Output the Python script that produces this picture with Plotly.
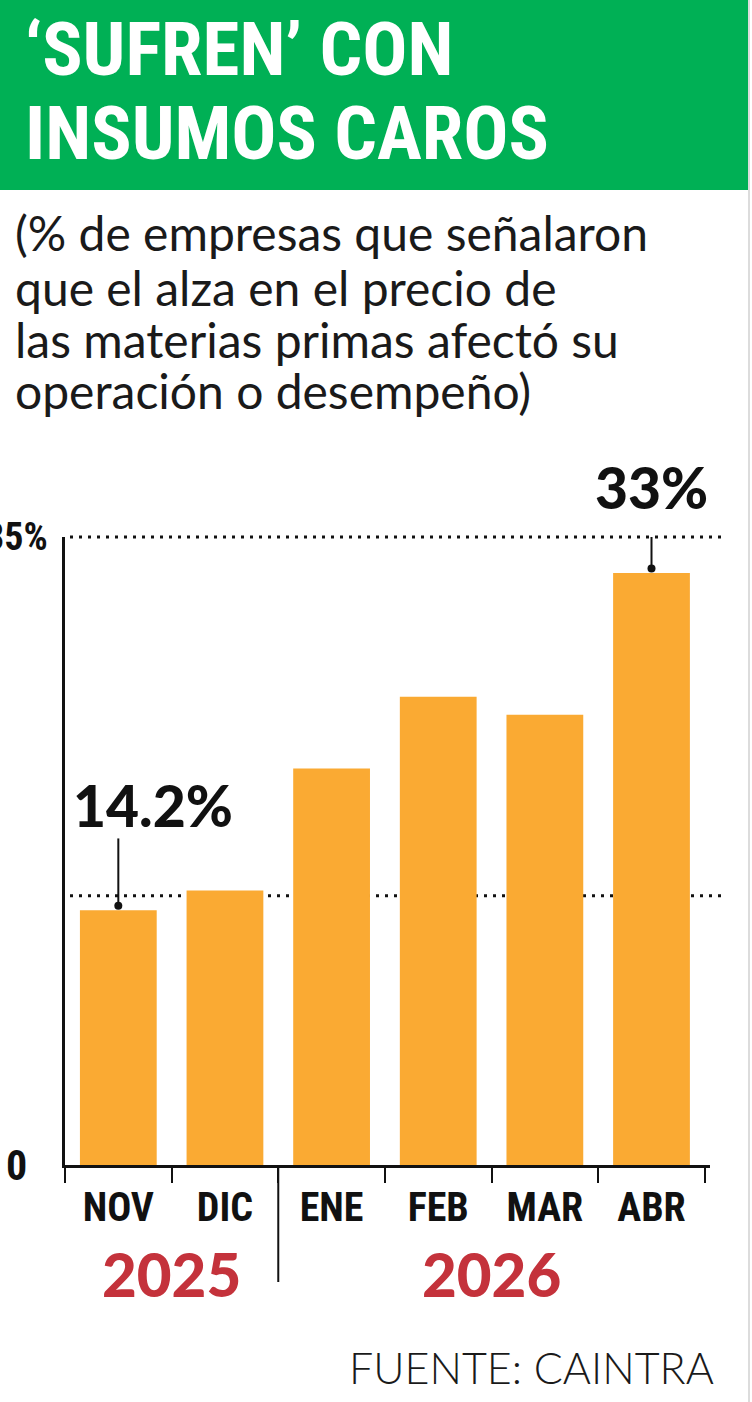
import plotly.graph_objects as go

# ---------------- data ----------------
months = ["NOV", "DIC", "ENE", "FEB", "MAR", "ABR"]
values = [14.2, 15.3, 22.1, 26.1, 25.1, 33.0]
years = ["2025", "2026"]
year_counts = [2, 4]          # months per year
label_idx = [0, 5]            # bars with value callouts
grid_vals = [15, 35]
ytick_vals = [0, 35]
ytick_text = ["0", "35%"]
title_lines = ["‘SUFREN’ CON", "INSUMOS CAROS"]
subtitle_lines = ["(% de empresas que señalaron",
                  "que el alza en el precio de",
                  "las materias primas afectó su",
                  "operación o desempeño)"]
source = "FUENTE: CAINTRA"

# ---------------- style ----------------
W, H = 752, 1402
L, R, T, B = 65, 710, 537, 1165
PW, PH = R - L, B - T
YMAX = 35
GREEN = "#00B055"
ORANGE = "#FAAA33"
RED = "#C4323B"
INK = "#111111"
COND = "Roboto Condensed, DejaVu Sans Condensed, sans-serif"
GEO = "Lato, Montserrat, sans-serif"


def px(x):
    return (x - L) / PW


def py(y):
    return (B - y) / PH


fig = go.Figure()
fig.add_trace(go.Bar(x=months, y=values, marker=dict(color=ORANGE, line_width=0),
                     hoverinfo="skip"))

conn_len = {0: 4.0, 5: 2.5}
for i in label_idx:
    v = values[i]
    fig.add_trace(go.Scatter(x=[months[i], months[i]], y=[v + 0.25, v + conn_len[i]],
                             mode="lines", line=dict(color=INK, width=2),
                             cliponaxis=False, hoverinfo="skip"))
    fig.add_trace(go.Scatter(x=[months[i]], y=[v + 0.25], mode="markers",
                             marker=dict(color=INK, size=8), cliponaxis=False,
                             hoverinfo="skip"))

shapes = []
shapes.append(dict(type="rect", xref="paper", yref="paper", x0=px(0), x1=px(748),
                   y0=py(190), y1=py(0), fillcolor=GREEN, line_width=0, layer="below"))
shapes.append(dict(type="line", xref="paper", yref="paper", x0=px(749), x1=px(749),
                   y0=py(0), y1=py(H), line=dict(color="#dcdcdc", width=2)))
for g in grid_vals:
    shapes.append(dict(type="line", xref="paper", yref="y domain", x0=px(70), x1=px(722),
                       y0=g / YMAX, y1=g / YMAX,
                       line=dict(color=INK, width=3, dash="3px,6px"), layer="below"))
shapes.append(dict(type="line", xref="x", yref="paper", x0=year_counts[0] - 0.5,
                   x1=year_counts[0] - 0.5, y0=py(1282), y1=0,
                   line=dict(color=INK, width=2)))

ann = []
for k, line in enumerate(title_lines):
    ann.append(dict(text=line, xref="paper", yref="paper", x=px(23), y=py([49, 133][k]),
                    xanchor="left", yanchor="middle", showarrow=False,
                    font=dict(family=COND, size=75, color="white", weight=700)))
for k, line in enumerate(subtitle_lines):
    ann.append(dict(text=line, xref="paper", yref="paper", x=px(13),
                    y=py([232, 287, 339, 390][k]), xanchor="left", yanchor="middle",
                    showarrow=False, font=dict(family=GEO, size=48, color="#1a1a1a")))
for v, t in zip(ytick_vals, ytick_text):
    ann.append(dict(text=t, xref="paper", yref="y", x=px(50 if v else 29), y=v,
                    xanchor="right", yanchor="middle", showarrow=False,
                    font=dict(family=COND, size=38 if v else 42, color=INK, weight=700)))
callout_shift = {0: (-47, 105, "left"), 5: (0, 86, "center")}
for i in label_idx:
    xs, ys, anc = callout_shift[i]
    ann.append(dict(text=f"{values[i]:g}%", xref="x", yref="y", x=months[i], y=values[i],
                    xshift=xs, yshift=ys, xanchor=anc, yanchor="middle", showarrow=False,
                    font=dict(family=GEO, size=57, color=INK, weight=900)))
start = 0
for yr, n in zip(years, year_counts):
    ann.append(dict(text=yr, xref="x", yref="paper", x=start + (n - 1) / 2, y=py(1274),
                    xanchor="center", yanchor="middle", showarrow=False,
                    font=dict(family=GEO, size=60, color=RED, weight=900)))
    start += n
ann.append(dict(text=source, xref="paper", yref="paper", x=px(716), y=py(1367),
                xanchor="right", yanchor="middle", showarrow=False,
                font=dict(family=GEO, size=43, color="#1a1a1a", weight=300)))

fig.update_layout(
    width=W, height=H, autosize=False,
    margin=dict(l=L, r=W - R, t=T, b=H - B, pad=0),
    paper_bgcolor="white", plot_bgcolor="white",
    showlegend=False, bargap=0.28,
    shapes=shapes, annotations=ann,
    xaxis=dict(type="category", showline=True, linecolor=INK, linewidth=3,
               ticks="outside", tickson="boundaries", ticklen=15, tickwidth=2,
               tickcolor=INK, showgrid=False, zeroline=False, fixedrange=True,
               tickfont=dict(family=COND, size=40, color=INK, weight=700),
               ticklabelstandoff=5),
    yaxis=dict(range=[0, YMAX], showline=True, linecolor=INK, linewidth=3,
               showgrid=False, zeroline=False, showticklabels=False, ticks="",
               fixedrange=True),
)

fig.write_html("out.html")
